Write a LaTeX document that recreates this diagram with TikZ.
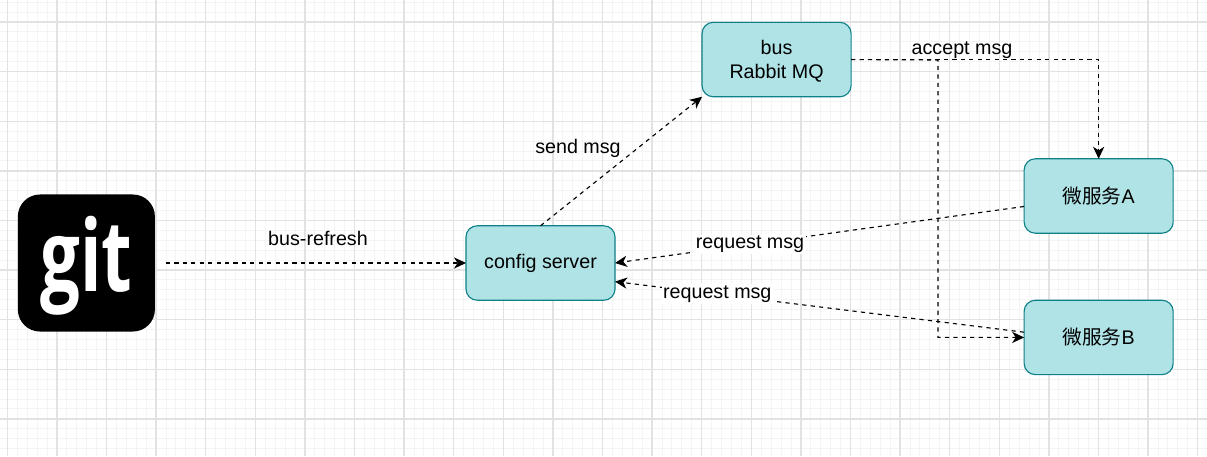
\documentclass[tikz,border=0pt]{standalone}
\usepackage{graphicx}
\usepackage{fontspec}
\setmainfont{Liberation Sans}
\newfontfamily\cjk{Noto Sans CJK SC}
\newfontfamily\logofont{Open Sans}
\usepackage{xcolor}
\definecolor{boxFill}{HTML}{B0E3E6}
\definecolor{boxLine}{HTML}{0E8088}
\definecolor{gridMajor}{HTML}{E2E2E2}
\definecolor{gridMinor}{HTML}{F4F4F4}
\usetikzlibrary{arrows.meta}
\tikzset{arrow/.style = {> = {Stealth[length = 3mm, width = 2.8mm, inset = 0.9mm]}}}
\usetikzlibrary{positioning}

\begin{document}
\begin{tikzpicture}[x = 0.025cm, y = -0.025cm,
	block/.style = {rectangle, draw = boxLine, line width = 0.8pt, fill = boxFill, rounded corners = 0.28cm, minimum width = 3.725cm, minimum height = 1.86cm, inner sep = 0pt, outer sep = 0pt, align = center, font = \fontsize{14}{17}\selectfont},
	msg/.style = {font = \fontsize{14}{17}\selectfont, inner sep = 1pt},
	link/.style = {->, arrow, dashed, dash pattern = on 3pt off 3pt, line width = 0.8pt, black}]
	\useasboundingbox (0, 0) rectangle (1207, 456);
	\fill[white] (0, 0) rectangle (1207, 456);

	%% Grid
	\foreach \k in {0, ..., 122} {
		\draw[gridMinor, line width = 0.7pt] ({-2.6 + 9.92*\k}, 0) -- ({-2.6 + 9.92*\k}, 456);
	}
	\foreach \k in {0, ..., 46} {
		\draw[gridMinor, line width = 0.7pt] (0, {2.2 + 9.92*\k}) -- (1207, {2.2 + 9.92*\k});
	}
	\foreach \k in {0, ..., 24} {
		\draw[gridMajor, line width = 1pt] ({7.3 + 49.6*\k}, 0) -- ({7.3 + 49.6*\k}, 456);
	}
	\foreach \k in {0, ..., 8} {
		\draw[gridMajor, line width = 1pt] (0, {22 + 49.6*\k}) -- (1207, {22 + 49.6*\k});
	}

	%% Blocks
	\node[block] (config) at (540.5, 263) {config server};
	\node[block, above right = 3.225cm and 2.175cm of config] (bus) {\rule{0pt}{12.8pt}bus\\Rabbit MQ};
	\node[block, below right = 1.55cm and 4.325cm of bus] (microA) {{\cjk 微服务}A};
	\node[block, below = 1.675cm of microA] (microB) {{\cjk 微服务}B};

	%% Logo
	\node[rectangle, fill = black, rounded corners = 0.55cm, minimum size = 3.425cm, inner sep = 0pt, outer sep = 0pt, left = 7.775cm of config] (git) {};
	\node[text = white, inner sep = 0pt] (gitword) at ([yshift = -2pt]git.center) {\resizebox*{2.3cm}{2.475cm}{\logofont\bfseries git}};

	%% Arrows...
	% ... to the config server
	\draw[link, shorten <= 0.275cm] (git.east) -- (config.west);
	\draw[link] (microA.188) -- node[msg, pos = 0.67, fill = white] (reqA) {request msg} (config.east);
	\draw[link] (microB.176) -- node[msg, pos = 0.75, fill = white] (reqB) {request msg} (config.346);

	% ... to the bus
	\draw[link] (config.north) -- (bus.south west);

	% ... from the bus
	\coordinate (busdrop) at (938, 60);
	\draw[link] (bus.east) -| (microA.north);
	\draw[link] (bus.east) -- (busdrop) |- (microB.west);

	%% Labels
	\node[msg] (refresh) at (318, 238) {bus-refresh};
	\node[msg] (send) at (578, 148) {send msg};
	\node[msg] (accept) at (962, 50) {accept msg};
\end{tikzpicture}
\end{document}
